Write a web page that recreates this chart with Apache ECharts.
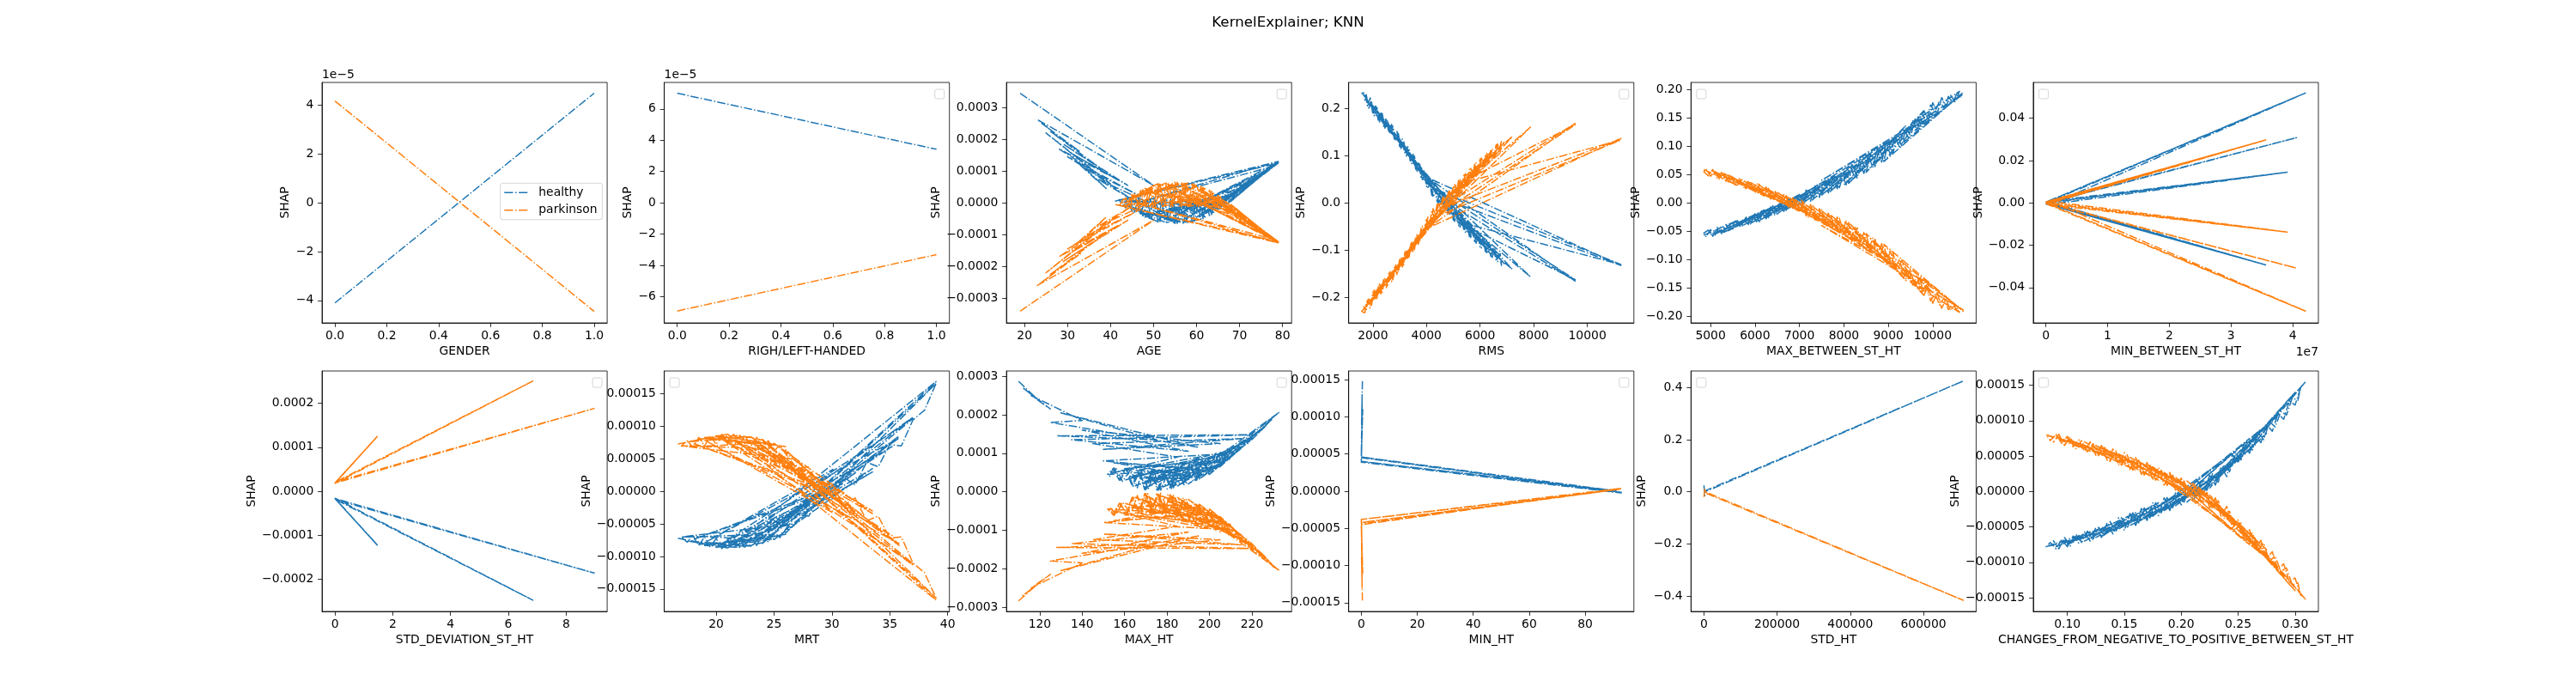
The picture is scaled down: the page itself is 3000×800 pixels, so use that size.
<!DOCTYPE html>
<html>
<head>
<meta charset="utf-8">
<title>KernelExplainer; KNN</title>
<script src="https://cdn.jsdelivr.net/npm/echarts@6/dist/echarts.min.js"></script>
<style>
  html, body { margin: 0; padding: 0; background: #fff; }
  #main { width: 3000px; height: 800px; }
</style>
</head>
<body>
<div id="main"></div>
<script>
// ---- data: SHAP value per sample, in the order the samples were plotted ----
// y values of the small-scale panels are written in units of 1e-5 / 1e-4 (see unit in panels)

// GENDER (y x1e-5)
const genderX = [0, 1];
const genderHealthy = [-4.1, 4.5];
const genderParkinson = [4.18, -4.45];

// RIGH/LEFT-HANDED (y x1e-5)
const handedX = [0, 1];
const handedHealthy = [7.0, 3.42];
const handedParkinson = [-6.91, -3.31];

// AGE (y x1e-4)
const ageX = [19,50,23,27,24,33,26,38,29,44,31,42,28,36,25,40,30,47,34,39,32,45,37,49,
  43,50,46,55,49,60,52,64,56,66,58,62,54,58,47,53,61,57,44,51,63,48,65,56,45,59,
  67,79,60,78,62,79,55,76,64,79,41,79,46,78,57,73,59,70,53,68,50,61,
  42,43,44,45,46,47,48,49,50,51,52,53,54,55,56,57,58,59,60,61,62,63,64,65,66,67,
  79,60,79,62,79,64,79,66,78,68,79,
  66.5,65.5,64.5,63.5,62.5,61.5,60.5,59.5,58.5,57.5,56.5,55.5,54.5,53.5,52.5,51.5,50.5,49.5,48.5,47.5,46.5,45.5,44.5,43.5,42.5];
const ageHealthy = [3.45,0.55,2.62,2.2,2.5,1.6,2.25,1.05,1.85,0.55,1.55,0.7,1.7,1.0,2.2,0.6,1.45,0.2,1.1,0.45,1.3,0.1,0.75,0,
  0.05,-0.55,0.1,-0.65,0.1,-0.55,0.12,-0.3,0.1,-0.1,0.12,-0.45,0.05,-0.62,-0.3,-0.63,0.05,-0.64,-0.1,-0.6,0,-0.45,0.05,-0.6,-0.2,-0.58,
  0.1,1.3,-0.45,1.2,-0.3,1.28,-0.4,1.0,-0.1,1.25,0.05,1.3,0,1.15,-0.25,0.75,-0.35,0.45,-0.25,0.25,-0.3,-0.1,
  0.1,-0.12,0.12,-0.27,0.12,-0.39,0.12,-0.49,0.12,-0.57,0.12,-0.62,0.12,-0.65,0.12,-0.64,0.12,-0.6,0.12,-0.52,0.12,-0.4,0.12,-0.24,0.1,-0.05,
  1.3,-0.45,1.27,-0.35,1.3,-0.22,1.25,-0.1,1.2,0.05,1.3,
  0.1,-0.195,0.12,-0.365,0.12,-0.495,0.12,-0.585,0.12,-0.635,0.12,-0.65,0.12,-0.63,0.12,-0.585,0.12,-0.51,0.12,-0.415,0.12,-0.3,0.12,-0.16,0.08];
const ageParkinson = [-3.41,-0.55,-2.6,-2.2,-2.5,-1.6,-2.25,-1.05,-1.85,-0.55,-1.55,-0.7,-1.7,-1.0,-2.2,-0.6,-1.45,-0.2,-1.1,-0.45,-1.3,-0.1,-0.75,0,
  -0.05,0.55,-0.1,0.65,-0.1,0.55,-0.12,0.3,-0.1,0.1,-0.12,0.45,-0.05,0.62,0.3,0.63,-0.05,0.64,0.1,0.6,0,0.45,-0.05,0.6,0.2,0.58,
  -0.1,-1.26,0.45,-1.2,0.3,-1.25,0.4,-1.0,0.1,-1.22,-0.05,-1.26,0,-1.15,0.25,-0.75,0.35,-0.45,0.25,-0.25,0.3,0.1,
  -0.1,0.12,-0.12,0.27,-0.12,0.39,-0.12,0.49,-0.12,0.57,-0.12,0.62,-0.12,0.65,-0.12,0.64,-0.12,0.6,-0.12,0.52,-0.12,0.4,-0.12,0.24,-0.1,0.05,
  -1.26,0.45,-1.24,0.35,-1.26,0.22,-1.22,0.1,-1.18,-0.05,-1.26,
  -0.1,0.195,-0.12,0.365,-0.12,0.495,-0.12,0.585,-0.12,0.635,-0.12,0.65,-0.12,0.63,-0.12,0.585,-0.12,0.51,-0.12,0.415,-0.12,0.3,-0.12,0.16,-0.08];

// RMS
const rmsX = [1583,2300,1700,2800,2100,3300,2600,3800,3000,4300,3500,4800,3900,5300,4400,5800,4700,6300,5100,6600,
  5500,7200,4100,11252,4500,9546,4000,7877,5000,6400,3200,6900,5600,9546,4300,11252,5200,6100,2400,3700,
  2900,4600,3400,5900,2000,3100,1900,2700,
  1583,1700,1800,1900,2000,2100,2200,2300,2400,2500,2600,2700,2800,2900,3000,3100,3200,3300,3400,3500,
  3600,3700,3800,3900,4000,4100,4200,4300,4400,4500,4600,4700,4800,4900,5000,5100,5200,5300,5400,5500,
  5600,5700,5800,5900,6000,6100,6200,6300,6400,6500,6600,6700,6800,
  6750,6650,6550,6450,6350,6250,6150,6050,5950,5850,5750,5650,5550,5450,5350,5250,5150,5050,4950,4850,
  4750,4650,4550,4450,4350,4250,4150,4050,3950,3850,3750,3650,3550,3450,3350,3250,3150,3050,2950,2850,
  2750,2650,2550,2450,2350,2250,2150,2050,1950,1850,1750,1650];
const rmsHealthy = [0.233,0.186,0.218,0.153,0.187,0.113,0.154,0.072,0.125,0.026,0.085,-0.005,0.050,-0.036,0.008,-0.064,-0.011,-0.090,-0.036,-0.105,
  -0.059,-0.140,0.052,-0.132,0.012,-0.165,0.055,-0.156,-0.020,-0.108,0.110,-0.128,-0.052,-0.162,0.030,-0.130,-0.040,-0.082,0.170,0.080,
  0.143,0.006,0.095,-0.070,0.196,0.127,0.212,0.150,
  0.233,0.232,0.205,0.222,0.188,0.205,0.175,0.192,0.162,0.179,0.148,0.166,0.135,0.151,0.119,0.135,0.103,0.119,0.087,0.103,
  0.071,0.087,0.054,0.068,0.035,0.050,0.016,0.032,0.002,0.020,-0.011,0.007,-0.023,-0.006,-0.036,-0.018,-0.048,-0.030,-0.059,-0.041,
  -0.071,-0.052,-0.082,-0.064,-0.093,-0.074,-0.103,-0.084,-0.113,-0.095,-0.123,-0.108,-0.132,
  -0.107,-0.125,-0.097,-0.115,-0.087,-0.105,-0.077,-0.095,-0.067,-0.085,-0.055,-0.073,-0.044,-0.062,-0.033,-0.051,-0.021,-0.039,-0.009,-0.026,
  0.004,-0.014,0.016,-0.001,0.029,0.012,0.045,0.030,0.063,0.049,0.082,0.067,0.099,0.083,0.115,0.099,0.131,0.115,0.147,0.131,
  0.162,0.145,0.175,0.158,0.189,0.171,0.202,0.184,0.216,0.200,0.230,0.220];
const rmsParkinson = [-0.229,-0.186,-0.218,-0.153,-0.187,-0.113,-0.154,-0.072,-0.125,-0.026,-0.085,0.005,-0.050,0.036,-0.008,0.064,0.011,0.090,0.036,0.105,
  0.059,0.140,-0.052,0.136,-0.012,0.168,-0.055,0.160,0.020,0.108,-0.110,0.128,0.052,0.165,-0.030,0.133,0.040,0.082,-0.170,-0.080,
  -0.143,-0.006,-0.095,0.070,-0.196,-0.127,-0.212,-0.150,
  -0.229,-0.232,-0.205,-0.222,-0.188,-0.205,-0.175,-0.192,-0.162,-0.179,-0.148,-0.166,-0.135,-0.151,-0.119,-0.135,-0.103,-0.119,-0.087,-0.103,
  -0.071,-0.087,-0.054,-0.068,-0.035,-0.050,-0.016,-0.032,-0.002,-0.020,0.011,-0.007,0.023,0.006,0.036,0.018,0.048,0.030,0.059,0.041,
  0.071,0.052,0.082,0.064,0.093,0.074,0.103,0.084,0.113,0.095,0.123,0.108,0.132,
  0.107,0.125,0.097,0.115,0.087,0.105,0.077,0.095,0.067,0.085,0.055,0.073,0.044,0.062,0.033,0.051,0.021,0.039,0.009,0.026,
  -0.004,0.014,-0.016,0.001,-0.029,-0.012,-0.045,-0.030,-0.063,-0.049,-0.082,-0.067,-0.099,-0.083,-0.115,-0.099,-0.131,-0.115,-0.147,-0.131,
  -0.162,-0.145,-0.175,-0.158,-0.189,-0.171,-0.202,-0.184,-0.216,-0.200,-0.228,-0.218];

// MAX_BETWEEN_ST_HT
const maxBetweenX = [4849,5600,5000,6200,5300,6600,5700,7000,6100,7400,6500,7800,6900,8200,7300,8600,7700,9000,8100,9400,
  8500,9800,8900,10684,9300,9700,8700,9200,8000,8800,7500,8300,7100,7900,6700,7600,6300,7200,5900,6800,
  5400,6400,5100,7000,10080,7500,10684,9600,10000,9500,
  10600,10500,10400,10300,10200,10100,10000,9900,9800,9700,9600,9500,9400,9300,9200,9100,9000,8900,8800,8700,
  8600,8500,8400,8300,8200,8100,8000,7900,7800,7700,7600,7500,7400,7300,7200,7100,7000,6900,6800,6700,
  6600,6500,6400,6300,6200,6100,6000,5900,5800,5700,5600,5500,5400,5300,5200,5100,5000,4900,4849,
  4950,5050,5150,5250,5350,5450,5550,5650,5750,5850,5950,6050,6150,6250,6350,6450,6550,6650,6750,6850,
  6950,7050,7150,7250,7350,7450,7550,7650,7750,7850,7950,8050,8150,8250,8350,8450,8550,8650,8750,8850,
  8950,9050,9150,9250,9350,9450,9550,9650,9750,9850,9950,10050,10150,10250,10350,10450,10550,10650];
const maxBetweenHealthy = [-0.057,-0.031,-0.058,-0.013,-0.052,0.000,-0.041,0.015,-0.031,0.031,-0.019,0.048,-0.006,0.067,0.006,0.088,0.021,0.108,0.034,0.137,
  0.054,0.163,0.073,0.195,0.104,0.152,0.068,0.118,0.032,0.094,0.014,0.066,0.001,0.047,-0.012,0.036,-0.024,0.021,-0.036,0.007,
  -0.049,-0.007,-0.055,0.012,0.158,0.040,0.192,0.128,0.158,0.140,
  0.197,0.179,0.190,0.170,0.186,0.158,0.177,0.146,0.163,0.131,0.148,0.117,0.134,0.101,0.121,0.086,0.107,0.074,0.097,0.064,
  0.087,0.054,0.077,0.044,0.067,0.035,0.055,0.027,0.047,0.020,0.040,0.012,0.032,0.004,0.025,-0.003,0.014,-0.007,0.008,-0.013,
  0.001,-0.020,-0.005,-0.026,-0.012,-0.033,-0.018,-0.037,-0.025,-0.041,-0.031,-0.046,-0.037,-0.052,-0.042,-0.057,-0.047,-0.060,-0.053,
  -0.048,-0.059,-0.043,-0.054,-0.038,-0.049,-0.032,-0.043,-0.027,-0.038,-0.022,-0.035,-0.014,-0.028,-0.007,-0.022,-0.001,-0.015,0.007,-0.009,
  0.013,-0.005,0.023,0.003,0.030,0.010,0.038,0.018,0.046,0.025,0.053,0.032,0.065,0.042,0.075,0.052,0.085,0.062,0.095,0.072,
  0.105,0.085,0.116,0.099,0.131,0.114,0.145,0.128,0.159,0.143,0.173,0.160,0.180,0.168,0.188,0.177,0.195,0.186];
const maxBetweenParkinson = [0.059,0.031,0.058,0.013,0.052,0.000,0.041,-0.015,0.031,-0.031,0.019,-0.048,0.006,-0.067,-0.006,-0.088,-0.021,-0.108,-0.034,-0.137,
  -0.054,-0.163,-0.073,-0.191,-0.104,-0.152,-0.068,-0.118,-0.032,-0.094,-0.014,-0.066,-0.001,-0.047,0.012,-0.036,0.024,-0.021,0.036,-0.007,
  0.049,0.007,0.055,-0.012,-0.150,-0.040,-0.189,-0.128,-0.158,-0.140,
  -0.193,-0.179,-0.190,-0.170,-0.186,-0.158,-0.177,-0.146,-0.163,-0.131,-0.148,-0.117,-0.134,-0.101,-0.121,-0.086,-0.107,-0.074,-0.097,-0.064,
  -0.087,-0.054,-0.077,-0.044,-0.067,-0.035,-0.055,-0.027,-0.047,-0.020,-0.040,-0.012,-0.032,-0.004,-0.025,0.003,-0.014,0.007,-0.008,0.013,
  -0.001,0.020,0.005,0.026,0.012,0.033,0.018,0.037,0.025,0.041,0.031,0.046,0.037,0.052,0.042,0.057,0.047,0.060,0.055,
  0.048,0.059,0.043,0.054,0.038,0.049,0.032,0.043,0.027,0.038,0.022,0.035,0.014,0.028,0.007,0.022,0.001,0.015,-0.007,0.009,
  -0.013,0.005,-0.023,-0.003,-0.030,-0.010,-0.038,-0.018,-0.046,-0.025,-0.053,-0.032,-0.065,-0.042,-0.075,-0.052,-0.085,-0.062,-0.095,-0.072,
  -0.105,-0.085,-0.116,-0.099,-0.131,-0.114,-0.145,-0.128,-0.159,-0.143,-0.173,-0.160,-0.180,-0.168,-0.188,-0.177,-0.191,-0.184];

// MIN_BETWEEN_ST_HT
const minBetweenX = [0,4.205e7,0.05e7,4.06e7,0,3.91e7,0.02e7,3.56e7,0,3.56e7,0.1e7,3.91e7,0.25e7,4.205e7,0.02e7,3.56e7,0,3.56e7,0.03e7];
const minBetweenHealthy = [0.0003,0.0519,0.0005,0.0308,-0.0002,0.0145,0.0002,-0.0293,-0.0004,-0.0293,-0.0006,0.0145,0.0015,0.0519,0.0006,-0.0293,-0.0005,-0.0293,0];
const minBetweenParkinson = [-0.0003,-0.0511,-0.0005,-0.0308,0.0002,-0.0138,-0.0002,0.0297,0.0004,0.0297,0.0006,-0.0138,-0.0015,-0.0511,-0.0006,0.0297,0.0005,0.0297,0];

// STD_DEVIATION_ST_HT (y x1e-4)
const stdDevX = [0,1.46,0.03,1.46,0,6.85,0.05,8.97,0.02];
const stdDevHealthy = [-0.17,-1.225,-0.19,-1.22,-0.16,-2.48,-0.2,-1.863,-0.17];
const stdDevParkinson = [0.19,1.244,0.21,1.24,0.18,2.508,0.22,1.883,0.19];

// MRT (y x1e-4)
const mrtX = [16.7,21,17.5,23,18.5,25,20,26,19,22,24,39,21,37,23,35.8,25,33.5,22,35.2,20,37,24,39,
  26,30,21.5,32,23.5,35.8,19.2,30.1,25.5,33.5,24.5,28,22.5,31,18,29.5,20.5,26.5,17,19.8,23,21,25,
  17,17.5,18,18.5,19,19.5,20,20.5,21,21.5,22,22.5,23,23.5,24,24.5,25,25.5,26,
  27,28,29,30,31,32,33,34,35,36,37,38,39];
const mrtHealthy = [-0.72,-0.87,-0.76,-0.84,-0.81,-0.73,-0.86,-0.66,-0.83,-0.86,-0.79,1.69,-0.87,1.14,-0.84,0.85,-0.74,0.35,-0.86,0.69,-0.86,1.12,-0.8,1.66,
  -0.64,0.02,-0.78,0.28,-0.7,0.82,-0.77,0.34,-0.55,0.3,-0.62,-0.2,-0.72,0.12,-0.74,-0.02,-0.8,-0.5,-0.7,-0.7,-0.74,-0.8,-0.66,
  -0.7,-0.78,-0.68,-0.83,-0.7,-0.86,-0.72,-0.88,-0.73,-0.88,-0.72,-0.86,-0.7,-0.83,-0.66,-0.78,-0.62,-0.71,-0.58,
  -0.35,-0.38,-0.05,-0.12,0.22,0.1,0.45,0.38,0.72,0.7,1.1,1.25,1.66];
const mrtParkinson = [0.73,0.88,0.76,0.84,0.81,0.73,0.86,0.69,0.83,0.86,0.79,-1.67,0.88,-1.13,0.84,-0.83,0.74,-0.34,0.86,-0.68,0.86,-1.11,0.8,-1.64,
  0.64,-0.02,0.78,-0.28,0.7,-0.8,0.77,-0.33,0.55,-0.3,0.62,0.2,0.72,-0.12,0.74,0.02,0.8,0.5,0.7,0.7,0.74,0.8,0.66,
  0.7,0.78,0.68,0.83,0.7,0.86,0.72,0.88,0.73,0.88,0.72,0.86,0.7,0.83,0.66,0.78,0.62,0.71,0.58,
  0.35,0.38,0.05,0.12,-0.22,-0.1,-0.45,-0.38,-0.72,-0.7,-1.1,-1.25,-1.64];

// MAX_HT (y x1e-4)
const maxHtX = [110,118,112,125,116,140,125,195,130,175,128,222,135,190,140,205,150,215,145,185,155,200,160,210,165,190,170,220,175,205,
  180,225,185,233,190,215,195,228,200,218,205,172,210,160,200,168,195,155,188,175,182,165,212,150,198,178,208,162,186,170,193,180,203,
  152,155,158,161,164,167,170,173,176,179,182,185,188,191,194,197,200,203,206,209,212,215,218,221,224,228,232,
  230,226,223,219,217,213,211,207,205,201,199,195,193,189,187,183,181,177,174,171,168,166,163,159,156,153,
  154.5,157.5,160.5,163.5,166.5,169.5,172.5,175.5,178.5,181.5,184.5,187.5,190.5,193.5,196.5,199.5,202.5,205.5,208.5,211.5,
  214.5,217.5,220.5,223.5,226.5,229.5];
const maxHtHealthy = [2.87,2.45,2.7,2.15,2.5,1.85,1.8,1.15,2.05,1.35,1.45,1.48,1.35,1.05,1.6,1.25,1.1,1.38,1.25,0.9,0.5,0.95,0.3,1.05,0.15,0.75,0.1,1.38,0.06,0.7,
  0.07,1.62,0.15,2.07,0.2,1.12,0.32,1.8,0.45,1.28,0.65,0.45,0.85,0.6,0.8,0.2,0.6,0.75,0.45,0.3,0.55,0.55,1.0,0.8,0.55,0.12,0.8,0.4,0.35,0.35,0.5,0.25,0.62,
  0.45,0.62,0.3,0.6,0.14,0.55,0.05,0.5,0.04,0.52,0.08,0.65,0.18,0.78,0.3,0.88,0.48,1.0,0.7,1.12,0.99,1.3,1.25,1.48,1.58,1.85,2.02,
  1.95,1.68,1.52,1.3,1.35,1.05,1.18,0.75,1.05,0.52,0.95,0.33,0.82,0.2,0.7,0.1,0.58,0.04,0.5,0.05,0.52,0.1,0.58,0.27,0.6,0.4,
  0.6,0.3,0.6,0.15,0.54,0.05,0.5,0.04,0.53,0.08,0.64,0.17,0.76,0.29,0.87,0.46,0.98,0.68,1.12,0.97,
  1.28,1.23,1.47,1.55,1.75,1.88];
const maxHtParkinson = [-2.84,-2.45,-2.7,-2.15,-2.5,-1.85,-1.8,-1.15,-2.05,-1.35,-1.45,-1.48,-1.35,-1.05,-1.6,-1.25,-1.1,-1.38,-1.25,-0.9,-0.5,-0.95,-0.3,-1.05,-0.15,-0.75,-0.1,-1.38,-0.06,-0.7,
  -0.07,-1.62,-0.15,-2.05,-0.2,-1.12,-0.32,-1.8,-0.45,-1.28,-0.65,-0.45,-0.85,-0.6,-0.8,-0.2,-0.6,-0.75,-0.45,-0.3,-0.55,-0.55,-1.0,-0.8,-0.55,-0.12,-0.8,-0.4,-0.35,-0.35,-0.5,-0.25,-0.62,
  -0.45,-0.62,-0.3,-0.6,-0.14,-0.55,-0.05,-0.5,-0.04,-0.52,-0.08,-0.65,-0.18,-0.78,-0.3,-0.88,-0.48,-1.0,-0.7,-1.12,-0.99,-1.3,-1.25,-1.48,-1.58,-1.85,-2.02,
  -1.95,-1.68,-1.52,-1.3,-1.35,-1.05,-1.18,-0.75,-1.05,-0.52,-0.95,-0.33,-0.82,-0.2,-0.7,-0.1,-0.58,-0.04,-0.5,-0.05,-0.52,-0.1,-0.58,-0.27,-0.6,-0.4,
  -0.6,-0.3,-0.6,-0.15,-0.54,-0.05,-0.5,-0.04,-0.53,-0.08,-0.64,-0.17,-0.76,-0.29,-0.87,-0.46,-0.98,-0.68,-1.12,-0.97,
  -1.28,-1.23,-1.47,-1.55,-1.75,-1.88];

// MIN_HT (y x1e-4)
const minHtX = [0.4,0.1,0.3,0,0.5,0,92.9,0,91,0.2,92.9,0.1,0.3];
const minHtHealthy = [1.48,0.9,1.3,0.46,1.1,0.39,-0.023,0.46,0.005,0.4,-0.015,0.45,1.2];
const minHtParkinson = [-1.47,-0.9,-1.3,-0.38,-1.1,-0.45,0.039,-0.38,0.02,-0.42,0.03,-0.44,-1.2];

// STD_HT
const stdHtX = [0,2000,5000,709000,3000];
const stdHtHealthy = [0.025,-0.015,0.005,0.4253,0];
const stdHtParkinson = [-0.02,0.012,-0.005,-0.4165,0];

// CHANGES_FROM_NEGATIVE_TO_POSITIVE_BETWEEN_ST_HT (y x1e-4)
const changesX = [0.0814,0.12,0.09,0.14,0.1,0.16,0.115,0.18,0.13,0.2,0.145,0.22,0.16,0.24,0.175,0.26,0.19,0.27,0.21,0.28,
  0.225,0.29,0.24,0.3,0.25,0.3095,0.26,0.285,0.23,0.275,0.215,0.265,0.205,0.255,0.195,0.245,0.185,0.235,0.17,0.225,
  0.155,0.2,0.14,0.17,0.125,0.15,0.1,0.135,
  0.0814,0.085,0.09,0.095,0.1,0.105,0.11,0.115,0.12,0.125,0.13,0.135,0.14,0.145,0.15,0.155,0.16,0.165,0.17,0.175,
  0.18,0.185,0.19,0.195,0.2,0.205,0.21,0.215,0.22,0.225,0.23,0.235,0.24,0.245,0.25,0.255,0.26,0.265,0.27,0.275,
  0.28,0.285,0.29,0.295,0.3,0.305,
  0.3025,0.2975,0.2925,0.2875,0.2825,0.2775,0.2725,0.2675,0.2625,0.2575,0.2525,0.2475,0.2425,0.2375,0.2325,0.2275,0.2225,0.2175,0.2125,0.2075,
  0.2025,0.1975,0.1925,0.1875,0.1825,0.1775,0.1725,0.1675,0.1625,0.1575,0.1525,0.1475,0.1425,0.1375,0.1325,0.1275,0.1225,0.1175,0.1125,0.1075,
  0.1025,0.0975,0.0925,0.0875];
const changesHealthy = [-0.78,-0.57,-0.78,-0.45,-0.75,-0.3,-0.7,-0.16,-0.63,-0.02,-0.53,0.15,-0.45,0.48,-0.35,0.75,-0.24,0.88,-0.12,1.03,
  0.05,1.2,0.32,1.4,0.47,1.556,0.6,1.1,0.17,0.82,-0.06,0.66,-0.15,0.55,-0.2,0.4,-0.27,0.26,-0.38,0.1,
  -0.48,-0.13,-0.55,-0.3,-0.65,-0.42,-0.73,-0.55,
  -0.78,-0.72,-0.81,-0.68,-0.78,-0.63,-0.73,-0.57,-0.7,-0.51,-0.65,-0.44,-0.6,-0.37,-0.55,-0.31,-0.48,-0.24,-0.41,-0.16,
  -0.34,-0.09,-0.27,-0.02,-0.19,0.06,-0.1,0.14,-0.02,0.23,0.09,0.35,0.21,0.52,0.4,0.67,0.54,0.8,0.69,0.95,
  0.85,1.1,1.02,1.28,1.22,1.47,
  1.29,1.32,1.08,1.13,0.91,0.99,0.73,0.835,0.585,0.695,0.445,0.545,0.28,0.38,0.13,0.25,0.015,0.15,-0.07,0.07,
  -0.15,-0.01,-0.23,-0.085,-0.3,-0.16,-0.375,-0.23,-0.445,-0.3,-0.52,-0.37,-0.575,-0.425,-0.635,-0.505,-0.675,-0.56,-0.72,-0.605,
  -0.77,-0.65,-0.81,-0.69];
const changesParkinson = [0.8,0.57,0.78,0.45,0.75,0.3,0.7,0.16,0.63,0.02,0.53,-0.15,0.45,-0.48,0.35,-0.75,0.24,-0.88,0.12,-1.03,
  -0.05,-1.2,-0.32,-1.4,-0.47,-1.528,-0.6,-1.1,-0.17,-0.82,0.06,-0.66,0.15,-0.55,0.2,-0.4,0.27,-0.26,0.38,-0.1,
  0.48,0.13,0.55,0.3,0.65,0.42,0.73,0.55,
  0.8,0.72,0.81,0.68,0.78,0.63,0.73,0.57,0.7,0.51,0.65,0.44,0.6,0.37,0.55,0.31,0.48,0.24,0.41,0.16,
  0.34,0.09,0.27,0.02,0.19,-0.06,0.1,-0.14,0.02,-0.23,-0.09,-0.35,-0.21,-0.52,-0.4,-0.67,-0.54,-0.8,-0.69,-0.95,
  -0.85,-1.1,-1.02,-1.28,-1.22,-1.47,
  -1.29,-1.32,-1.08,-1.13,-0.91,-0.99,-0.73,-0.835,-0.585,-0.695,-0.445,-0.545,-0.28,-0.38,-0.13,-0.25,-0.015,-0.15,0.07,-0.07,
  0.15,0.01,0.23,0.085,0.3,0.16,0.375,0.23,0.445,0.3,0.52,0.37,0.575,0.425,0.635,0.505,0.675,0.56,0.72,0.605,
  0.77,0.65,0.81,0.69];

// ---- tick positions ----
const unitTicks = [0, 0.2, 0.4, 0.6, 0.8, 1.0];
const genderYTicks = [-4e-5, -2e-5, 0, 2e-5, 4e-5];
const handedYTicks = [-6e-5, -4e-5, -2e-5, 0, 2e-5, 4e-5, 6e-5];
const ageXTicks = [20, 30, 40, 50, 60, 70, 80];
const e4Ticks = [-3e-4, -2e-4, -1e-4, 0, 1e-4, 2e-4, 3e-4];
const rmsXTicks = [2000, 4000, 6000, 8000, 10000];
const rmsYTicks = [-0.2, -0.1, 0, 0.1, 0.2];
const maxBetweenXTicks = [5000, 6000, 7000, 8000, 9000, 10000];
const maxBetweenYTicks = [-0.2, -0.15, -0.1, -0.05, 0, 0.05, 0.1, 0.15, 0.2];
const minBetweenXTicks = [0, 1e7, 2e7, 3e7, 4e7];
const minBetweenYTicks = [-0.04, -0.02, 0, 0.02, 0.04];
const stdDevXTicks = [0, 2, 4, 6, 8];
const stdDevYTicks = [-2e-4, -1e-4, 0, 1e-4, 2e-4];
const mrtXTicks = [20, 25, 30, 35, 40];
const e5Ticks = [-1.5e-4, -1e-4, -0.5e-4, 0, 0.5e-4, 1e-4, 1.5e-4];
const maxHtXTicks = [120, 140, 160, 180, 200, 220];
const minHtXTicks = [0, 20, 40, 60, 80];
const stdHtXTicks = [0, 200000, 400000, 600000];
const stdHtYTicks = [-0.4, -0.2, 0, 0.2, 0.4];
const changesXTicks = [0.10, 0.15, 0.20, 0.25, 0.30];

// ---- layout ----
const BLUE = '#1f77b4', ORANGE = '#ff7f0e';
const FONT = 'DejaVu Sans';
const FS = 13.9;
const dashDot = [9.6, 2.4, 1.5, 2.4];
const colLefts = [375, 773.6, 1172.1, 1570.7, 1969.3, 2367.9];
const rowTops = [96, 432];
const axW = 332.1, axH = 280;

const panels = [
  {label: 'GENDER', x: genderX, h: genderHealthy, p: genderParkinson, unit: 1e-5,
   xr: [-0.05, 1.05], xt: unitTicks, xd: 1, xs: 1, yr: [-4.92e-5, 4.94e-5], yt: genderYTicks, yd: 0, ys: 1e-5, gap: 35.5, box: null},
  {label: 'RIGH/LEFT-HANDED', x: handedX, h: handedHealthy, p: handedParkinson, unit: 1e-5,
   xr: [-0.05, 1.05], xt: unitTicks, xd: 1, xs: 1, yr: [-7.67e-5, 7.69e-5], yt: handedYTicks, yd: 0, ys: 1e-5, gap: 35.3, box: 'right'},
  {label: 'AGE', x: ageX, h: ageHealthy, p: ageParkinson, unit: 1e-4,
   xr: [15.8, 82.1], xt: ageXTicks, xd: 0, xs: 1, yr: [-3.78e-4, 3.79e-4], yt: e4Ticks, yd: 4, ys: 1, gap: 74.6, box: 'right'},
  {label: 'RMS', x: rmsX, h: rmsHealthy, p: rmsParkinson, unit: 1,
   xr: [1100, 11735], xt: rmsXTicks, xd: 0, xs: 1, yr: [-0.2533, 0.2545], yt: rmsYTicks, yd: 1, ys: 1, gap: 48.2, box: 'right'},
  {label: 'MAX_BETWEEN_ST_HT', x: maxBetweenX, h: maxBetweenHealthy, p: maxBetweenParkinson, unit: 1,
   xr: [4560, 10975], xt: maxBetweenXTicks, xd: 0, xs: 1, yr: [-0.2117, 0.2127], yt: maxBetweenYTicks, yd: 2, ys: 1, gap: 56.8, box: 'left'},
  {label: 'MIN_BETWEEN_ST_HT', x: minBetweenX, h: minBetweenHealthy, p: minBetweenParkinson, unit: 1,
   xr: [-0.205e7, 4.415e7], xt: minBetweenXTicks, xd: 0, xs: 1e7, yr: [-0.0567, 0.0569], yt: minBetweenYTicks, yd: 2, ys: 1, gap: 56.7, box: 'left'},
  {label: 'STD_DEVIATION_ST_HT', x: stdDevX, h: stdDevHealthy, p: stdDevParkinson, unit: 1e-4,
   xr: [-0.45, 9.42], xt: stdDevXTicks, xd: 0, xs: 1, yr: [-2.736e-4, 2.736e-4], yt: stdDevYTicks, yd: 4, ys: 1, gap: 75, box: 'right'},
  {label: 'MRT', x: mrtX, h: mrtHealthy, p: mrtParkinson, unit: 1e-4,
   xr: [15.52, 40.15], xt: mrtXTicks, xd: 0, xs: 1, yr: [-1.845e-4, 1.852e-4], yt: e5Ticks, yd: 5, ys: 1, gap: 83.4, box: 'left'},
  {label: 'MAX_HT', x: maxHtX, h: maxHtHealthy, p: maxHtParkinson, unit: 1e-4,
   xr: [104.3, 238.7], xt: maxHtXTicks, xd: 0, xs: 1, yr: [-3.112e-4, 3.137e-4], yt: e4Ticks, yd: 4, ys: 1, gap: 74.6, box: 'right'},
  {label: 'MIN_HT', x: minHtX, h: minHtHealthy, p: minHtParkinson, unit: 1e-4,
   xr: [-4.5, 97.4], xt: minHtXTicks, xd: 0, xs: 1, yr: [-1.617e-4, 1.617e-4], yt: e5Ticks, yd: 5, ys: 1, gap: 83.5, box: 'right'},
  {label: 'STD_HT', x: stdHtX, h: stdHtHealthy, p: stdHtParkinson, unit: 1,
   xr: [-35500, 744000], xt: stdHtXTicks, xd: 0, xs: 1, yr: [-0.4593, 0.4637], yt: stdHtYTicks, yd: 1, ys: 1, gap: 49.8, box: 'left'},
  {label: 'CHANGES_FROM_NEGATIVE_TO_POSITIVE_BETWEEN_ST_HT', x: changesX, h: changesHealthy, p: changesParkinson, unit: 1e-4,
   xr: [0.07, 0.3205], xt: changesXTicks, xd: 2, xs: 1, yr: [-1.694e-4, 1.702e-4], yt: e5Ticks, yd: 5, ys: 1, gap: 83.9, box: 'left'}
];

function fmt(dec, scale) {
  return function (v) {
    let s = (v / scale).toFixed(dec);
    if (Number(s) === 0) s = s.replace('-', '');
    return s.replace('-', '\u2212');
  };
}

function pts(xs, ys, unit) {
  return xs.map(function (x, k) { return [x, ys[k] * unit]; });
}

function axis(i, range, ticks, dec, scale, name, gap, isY) {
  return {
    type: 'value', gridIndex: i, min: range[0], max: range[1],
    name: name, nameLocation: 'middle', nameGap: gap,
    nameTextStyle: {fontFamily: FONT, fontSize: FS, color: '#000'},
    axisLine: {show: true, onZero: false, lineStyle: {color: '#000', width: 0.8}},
    axisTick: {show: true, length: 4.9, customValues: ticks, lineStyle: {color: '#000', width: 0.8}},
    axisLabel: {show: true, customValues: ticks, formatter: fmt(dec, scale), margin: isY ? 9.7 : 8.5,
      fontFamily: FONT, fontSize: FS, color: '#000'},
    splitLine: {show: false}
  };
}

const grids = [], xAxes = [], yAxes = [], series = [], graphics = [];
panels.forEach(function (p, i) {
  const left = colLefts[i % 6], top = rowTops[Math.floor(i / 6)];
  grids.push({left: left, top: top, width: axW, height: axH, show: true,
    borderColor: '#000', borderWidth: 0.8, backgroundColor: 'transparent'});
  xAxes.push(axis(i, p.xr, p.xt, p.xd, p.xs, p.label, 26, false));
  yAxes.push(axis(i, p.yr, p.yt, p.yd, p.ys, 'SHAP', p.gap, true));
  [['healthy', p.h, BLUE], ['parkinson', p.p, ORANGE]].forEach(function (s) {
    series.push({
      type: 'line', name: s[0], xAxisIndex: i, yAxisIndex: i,
      data: pts(p.x, s[1], p.unit),
      symbol: 'none', showSymbol: false, silent: true, animation: false,
      itemStyle: {color: s[2]},
      lineStyle: {color: s[2], width: 1.5, type: dashDot, cap: 'butt', join: 'round'}
    });
  });
  if (p.box) {
    graphics.push({
      type: 'rect', z: 100,
      shape: {x: p.box === 'right' ? left + axW - 17 : left + 6.5, y: top + 8, width: 11, height: 11, r: 2},
      style: {fill: 'rgba(255,255,255,0.8)', stroke: '#d6d6d6', lineWidth: 1}
    });
  }
});

// scientific offset labels
const offFont = FS + 'px "' + FONT + '"';
graphics.push({type: 'text', z: 100, style: {text: '1e\u22125', x: colLefts[0], y: 87.2, font: offFont, fill: '#000', textAlign: 'left', textVerticalAlign: 'middle'}});
graphics.push({type: 'text', z: 100, style: {text: '1e\u22125', x: colLefts[1], y: 87.2, font: offFont, fill: '#000', textAlign: 'left', textVerticalAlign: 'middle'}});
graphics.push({type: 'text', z: 100, style: {text: '1e7', x: colLefts[5] + axW, y: 410, font: offFont, fill: '#000', textAlign: 'right', textVerticalAlign: 'middle'}});

// dash-dot legend handle
const legendHandle = 'path://M0,0h9.6v1.5h-9.6zM12,0h1.5v1.5h-1.5zM15.9,0h9.6v1.5h-9.6z';

const chart = echarts.init(document.getElementById('main'), null, {renderer: 'canvas'});
chart.setOption({
  animation: false,
  backgroundColor: '#fff',
  title: {text: 'KernelExplainer; KNN', left: 'center', top: 13,
    textStyle: {fontFamily: FONT, fontSize: 16.7, fontWeight: 'normal', color: '#000'}},
  legend: {
    data: [{name: 'healthy', icon: legendHandle}, {name: 'parkinson', icon: legendHandle}],
    orient: 'vertical', left: 582.7, top: 213.3,
    itemWidth: 27, itemHeight: 1.6, itemGap: 6.5, padding: [4, 6, 4, 4.6],
    borderColor: '#d6d6d6', borderWidth: 1, borderRadius: 3, backgroundColor: 'rgba(255,255,255,0.8)',
    selectedMode: false, z: 50,
    textStyle: {fontFamily: FONT, fontSize: FS, color: '#000', padding: [0, 0, 0, 8]}
  },
  grid: grids,
  xAxis: xAxes,
  yAxis: yAxes,
  series: series,
  graphic: graphics
});
</script>
</body>
</html>
